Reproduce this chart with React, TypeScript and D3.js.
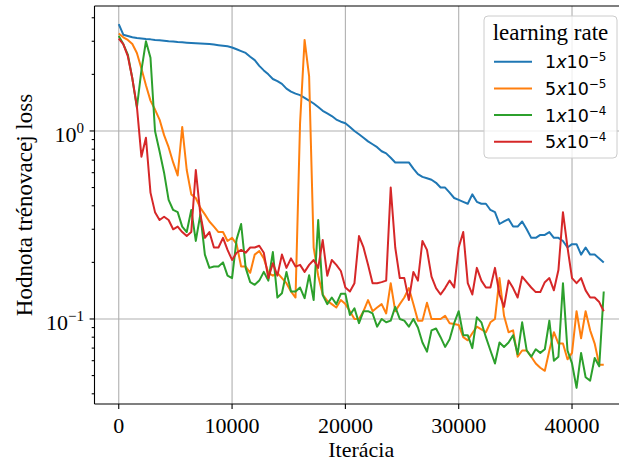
import React, { useEffect, useRef } from 'react'
import * as d3 from 'd3'

// iterations between two logged points
const STEP = 400

// training loss per learning rate
const lr1e5 = [
  3.7, 3.25, 3.2, 3.15, 3.12, 3.1, 3.08, 3.07, 3.05, 3.04,
  3.02, 3.0, 2.99, 2.97, 2.96, 2.95, 2.94, 2.93, 2.92, 2.91,
  2.9, 2.88, 2.86, 2.84, 2.82, 2.78, 2.72, 2.66, 2.6, 2.48,
  2.38, 2.22, 2.1, 2.0, 1.89, 1.84, 1.78, 1.68, 1.62, 1.58,
  1.55, 1.5, 1.45, 1.4, 1.34, 1.28, 1.24, 1.2, 1.15, 1.12,
  1.1, 1.05, 1.0, 0.96, 0.92, 0.88, 0.85, 0.82, 0.78, 0.76,
  0.72, 0.68, 0.68, 0.68, 0.68, 0.63, 0.59, 0.57, 0.56, 0.55,
  0.53, 0.5, 0.5, 0.47, 0.44, 0.43, 0.42, 0.41, 0.46, 0.42,
  0.41, 0.41, 0.38, 0.37, 0.32, 0.33, 0.34, 0.31, 0.31, 0.33,
  0.3, 0.27, 0.27, 0.28, 0.28, 0.29, 0.27, 0.27, 0.26, 0.24,
  0.25, 0.25, 0.22, 0.24, 0.22, 0.22, 0.21, 0.2,
]
const lr5e5 = [
  3.3, 3.15, 3.05, 2.9, 2.6, 2.15, 1.75, 1.45, 1.3, 1.15,
  0.95, 0.82, 0.68, 0.58, 1.05, 0.62, 0.46, 0.44, 0.39, 0.36,
  0.33, 0.31, 0.29, 0.29, 0.26, 0.27, 0.25, 0.19, 0.19, 0.176,
  0.22, 0.23, 0.21, 0.176, 0.17, 0.176, 0.165, 0.155, 0.14, 0.13,
  1.1, 3.05, 1.95, 0.24, 0.17, 0.135, 0.125, 0.12, 0.115, 0.126,
  0.12, 0.11, 0.1, 0.1, 0.11, 0.126, 0.11, 0.115, 0.12, 0.107,
  0.155, 0.11, 0.12, 0.13, 0.146, 0.12, 0.098, 0.098, 0.122, 0.1,
  0.1, 0.1, 0.104, 0.095, 0.094, 0.093, 0.08, 0.077, 0.084, 0.091,
  0.088, 0.085, 0.096, 0.1, 0.165, 0.104, 0.085, 0.087, 0.063, 0.068,
  0.068, 0.063, 0.058, 0.055, 0.053, 0.068, 0.085, 0.074, 0.074, 0.061,
  0.066, 0.11, 0.079, 0.11, 0.087, 0.074, 0.057, 0.057,
]
const lr1e4 = [
  3.2, 2.9, 2.55, 1.9, 1.33, 2.1, 3.0, 2.45, 1.0, 0.78,
  0.6, 0.43, 0.38, 0.37, 0.31, 0.29, 0.38, 0.26, 0.36, 0.22,
  0.187, 0.19, 0.19, 0.2, 0.17, 0.165, 0.265, 0.32, 0.187, 0.157,
  0.152, 0.16, 0.178, 0.16, 0.227, 0.13, 0.137, 0.178, 0.14, 0.14,
  0.147, 0.129, 0.171, 0.126, 0.336, 0.134, 0.12, 0.13, 0.12, 0.136,
  0.136, 0.105, 0.114, 0.095, 0.11, 0.11, 0.107, 0.091, 0.1, 0.096,
  0.098, 0.116, 0.1, 0.098, 0.091, 0.1, 0.09, 0.075, 0.067, 0.087,
  0.089, 0.08, 0.071, 0.078, 0.095, 0.11, 0.082, 0.082, 0.07, 0.102,
  0.096, 0.08, 0.068, 0.058, 0.075, 0.071, 0.075, 0.082, 0.065, 0.096,
  0.068, 0.063, 0.069, 0.066, 0.069, 0.098, 0.06, 0.063, 0.155, 0.068,
  0.058, 0.043, 0.066, 0.049, 0.047, 0.062, 0.056, 0.14,
]
const lr5e4 = [
  3.1, 2.9, 2.5, 1.9, 1.35, 0.73, 0.92, 0.47, 0.37, 0.336,
  0.35, 0.336, 0.3, 0.31, 0.29, 0.276, 0.29, 0.62, 0.36, 0.27,
  0.29, 0.24, 0.24, 0.27, 0.233, 0.206, 0.225, 0.233, 0.225, 0.24,
  0.24, 0.245, 0.225, 0.165, 0.198, 0.17, 0.22, 0.187, 0.21, 0.19,
  0.194, 0.178, 0.194, 0.206, 0.187, 0.263, 0.17, 0.206, 0.194, 0.18,
  0.147, 0.14, 0.155, 0.276, 0.24, 0.194, 0.155, 0.155, 0.157, 0.16,
  0.5, 0.24, 0.165, 0.165, 0.126, 0.178, 0.16, 0.26, 0.233, 0.168,
  0.146, 0.135, 0.146, 0.16, 0.147, 0.24, 0.29, 0.155, 0.135, 0.187,
  0.16, 0.147, 0.147, 0.187, 0.135, 0.116, 0.16, 0.146, 0.13, 0.168,
  0.157, 0.147, 0.139, 0.139, 0.157, 0.165, 0.142, 0.182, 0.37, 0.24,
  0.165, 0.155, 0.165, 0.142, 0.13, 0.13, 0.123, 0.11,
]

const series = [lr1e5, lr5e5, lr1e4, lr5e4]
const colors = ['#1f77b4', '#ff7f0e', '#2ca02c', '#d62728']
const legendMantissa = ['1', '5', '1', '5']
const legendExponent = ['\u22125', '\u22125', '\u22124', '\u22124']

const xTicks = [0, 10000, 20000, 30000, 40000]
const yMajor = [1, 0.1]
const yMajorExp = ['0', '\u22121']

const W = 619
const H = 463
const left = 94.5
const right = 628
const top = 6
const bottom = 404

const serif = '"Liberation Serif", "Times New Roman", serif'
const sans = '"DejaVu Sans", sans-serif'

export default function App() {
  const ref = useRef<SVGSVGElement | null>(null)

  useEffect(() => {
    const svg = d3.select(ref.current)
    svg.selectAll('*').remove()

    const xMax = (lr1e5.length - 1) * STEP
    const x = d3.scaleLinear().domain([-0.05 * xMax, 1.05 * xMax]).range([left, right])
    const y = d3.scaleLog().domain([0.0353, 4.62]).range([bottom, top])

    svg.append('rect').attr('width', W).attr('height', H).attr('fill', '#fff')

    svg.append('clipPath').attr('id', 'plot')
      .append('rect')
      .attr('x', left).attr('y', top)
      .attr('width', right - left).attr('height', bottom - top)

    // grid
    const grid = svg.append('g').attr('stroke', '#b0b0b0').attr('stroke-width', 1.1)
    grid.selectAll('.gx').data(xTicks).join('line')
      .attr('x1', d => x(d)).attr('x2', d => x(d))
      .attr('y1', top).attr('y2', bottom)
    grid.selectAll('.gy').data(yMajor).join('line')
      .attr('x1', left).attr('x2', right)
      .attr('y1', d => y(d)).attr('y2', d => y(d))

    // loss curves
    const line = d3.line<number>()
      .x((_, i) => x(i * STEP))
      .y(d => y(d))
    svg.append('g').attr('clip-path', 'url(#plot)')
      .selectAll('path').data(series).join('path')
      .attr('d', d => line(d))
      .attr('fill', 'none')
      .attr('stroke', (_, i) => colors[i])
      .attr('stroke-width', 2)
      .attr('stroke-linejoin', 'round')

    // spines
    const spines = svg.append('g').attr('stroke', '#000').attr('stroke-width', 1.1)
    spines.append('line').attr('x1', left).attr('x2', left).attr('y1', top).attr('y2', bottom)
    spines.append('line').attr('x1', left).attr('x2', right).attr('y1', top).attr('y2', top)
    spines.append('line').attr('x1', left).attr('x2', right).attr('y1', bottom).attr('y2', bottom)

    // x axis
    const xa = svg.append('g')
    xa.selectAll('line').data(xTicks).join('line')
      .attr('x1', d => x(d)).attr('x2', d => x(d))
      .attr('y1', bottom).attr('y2', bottom + 4.9)
      .attr('stroke', '#000').attr('stroke-width', 1.1)
    xa.selectAll('text').data(xTicks).join('text')
      .attr('x', d => x(d)).attr('y', 433)
      .attr('text-anchor', 'middle')
      .style('font', `22px ${serif}`)
      .text(d => String(d))

    // y axis
    const minor = y.ticks().filter(t => !yMajor.some(m => Math.abs(m - t) < 1e-9))
    const ya = svg.append('g').attr('stroke', '#000').attr('stroke-width', 1.1)
    ya.selectAll('.maj').data(yMajor).join('line')
      .attr('x1', left - 4.9).attr('x2', left)
      .attr('y1', d => y(d)).attr('y2', d => y(d))
    ya.selectAll('.min').data(minor).join('line')
      .attr('x1', left - 2.8).attr('x2', left)
      .attr('y1', d => y(d)).attr('y2', d => y(d))

    const yl = svg.append('g').selectAll('text').data(yMajor).join('text')
      .attr('x', 84).attr('y', d => y(d) + 11)
      .attr('text-anchor', 'end')
      .style('font', `22px ${serif}`)
    yl.append('tspan').text('10')
    yl.append('tspan').attr('dy', -9).attr('font-size', 15).text((_, i) => yMajorExp[i])

    // axis titles
    svg.append('text')
      .attr('x', (left + right) / 2).attr('y', 457)
      .attr('text-anchor', 'middle')
      .style('font', `22px ${serif}`)
      .text('Iterácia')
    svg.append('text')
      .attr('transform', `translate(32,${(top + bottom) / 2}) rotate(-90)`)
      .attr('text-anchor', 'middle')
      .style('font', `23px ${serif}`)
      .text('Hodnota trénovacej loss')

    // legend
    const lg = svg.append('g')
    lg.append('rect')
      .attr('x', 484).attr('y', 16).attr('width', 133).attr('height', 142).attr('rx', 4)
      .attr('fill', '#fff').attr('fill-opacity', 0.8)
      .attr('stroke', '#cccccc').attr('stroke-width', 1)
    lg.append('text')
      .attr('x', 550.5).attr('y', 40)
      .attr('text-anchor', 'middle')
      .style('font', `23px ${serif}`)
      .text('learning rate')
    const item = lg.selectAll('.item').data(colors).join('g')
      .attr('transform', (_, i) => `translate(0,${61.7 + i * 26.7})`)
    item.append('line')
      .attr('x1', 494).attr('x2', 532)
      .attr('stroke', d => d).attr('stroke-width', 2)
    const lt = item.append('text')
      .attr('x', 545).attr('y', 6.5)
      .style('font', `17.5px ${sans}`)
    lt.append('tspan').text((_, i) => legendMantissa[i])
    lt.append('tspan').attr('font-style', 'italic').text('x')
    lt.append('tspan').text('10')
    lt.append('tspan').attr('dy', -7).attr('font-size', 12).text((_, i) => legendExponent[i])
  }, [])

  return (
    <svg
      ref={ref}
      width={W}
      height={H}
      style={{ position: 'absolute', left: 0, top: 0 }}
    />
  )
}
